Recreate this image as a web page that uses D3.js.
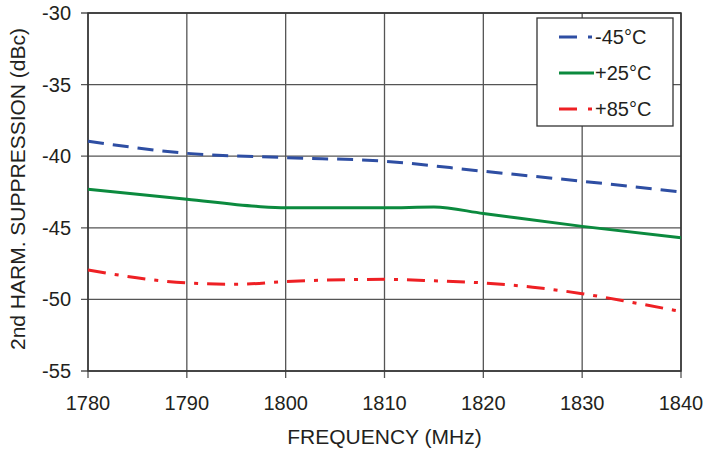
<!DOCTYPE html>
<html>
<head>
<meta charset="utf-8">
<script src="https://cdn.jsdelivr.net/npm/d3@7"></script>
<style>
body { margin: 0; background: #fff; }
text { font-family: "Liberation Sans", Arial, sans-serif; fill: #231f20; }
</style>
</head>
<body>
<script>
// chart values
var freq_ticks = [1780, 1790, 1800, 1810, 1820, 1830, 1840];
var supp_ticks = [-30, -35, -40, -45, -50, -55];

var freq_m45 = [1780, 1790, 1800, 1810, 1820, 1830, 1840];
var supp_m45 = [-38.95, -39.8, -40.1, -40.35, -41.05, -41.75, -42.5];

var freq_p25 = [1780, 1790, 1797, 1800, 1810, 1815, 1820, 1830, 1840];
var supp_p25 = [-42.3, -43.0, -43.5, -43.6, -43.6, -43.55, -44.0, -44.9, -45.7];

var freq_p85 = [1780, 1790, 1795, 1800, 1810, 1815, 1820, 1825, 1830, 1835, 1840];
var supp_p85 = [-47.95, -48.85, -48.95, -48.75, -48.6, -48.7, -48.85, -49.15, -49.6, -50.2, -50.85];

var series_names = ["-45°C", "+25°C", "+85°C"];

var width = 705, height = 454;
var margin = {top: 13, right: 24, bottom: 83, left: 88};
var plot_w = width - margin.left - margin.right;
var plot_h = height - margin.top - margin.bottom;

var svg = d3.select("body").append("svg")
		.attr("width", width)
		.attr("height", height);

var g = svg.append("g")
		.attr("transform", "translate(" + margin.left + "," + margin.top + ")");

var x = d3.scaleLinear().domain([1780, 1840]).range([0, plot_w]);
var y = d3.scaleLinear().domain([-55, -30]).range([plot_h, 0]);

// grid lines
g.selectAll(".vgrid").data(freq_ticks).enter().append("line")
		.attr("x1", function(d) { return x(d); })
		.attr("x2", function(d) { return x(d); })
		.attr("y1", 0)
		.attr("y2", plot_h + 7)
		.attr("stroke", "#555")
		.attr("stroke-width", 1.3);

g.selectAll(".hgrid").data(supp_ticks).enter().append("line")
		.attr("x1", -7)
		.attr("x2", plot_w)
		.attr("y1", function(d) { return y(d); })
		.attr("y2", function(d) { return y(d); })
		.attr("stroke", "#555")
		.attr("stroke-width", 1.3);

// plot border
g.append("rect")
		.attr("width", plot_w)
		.attr("height", plot_h)
		.attr("fill", "none")
		.attr("stroke", "#333")
		.attr("stroke-width", 1.5);

// tick labels
g.selectAll(".xlab").data(freq_ticks).enter().append("text")
		.attr("x", function(d) { return x(d); })
		.attr("y", plot_h + 39)
		.attr("text-anchor", "middle")
		.attr("font-size", 20)
		.text(function(d) { return d; });

g.selectAll(".ylab").data(supp_ticks).enter().append("text")
		.attr("x", -17)
		.attr("y", function(d) { return y(d) + 7; })
		.attr("text-anchor", "end")
		.attr("font-size", 20)
		.text(function(d) { return d; });

// axis titles
svg.append("text")
		.attr("x", margin.left + plot_w / 2)
		.attr("y", 444)
		.attr("text-anchor", "middle")
		.attr("font-size", 21)
		.text("FREQUENCY (MHz)");

svg.append("text")
		.attr("transform", "translate(25," + (margin.top + plot_h / 2 - 3) + ") rotate(-90)")
		.attr("text-anchor", "middle")
		.attr("font-size", 21)
		.text("2nd HARM. SUPPRESSION (dBc)");

// curves
var line = d3.line()
		.x(function(d) { return x(d[0]); })
		.y(function(d) { return y(d[1]); })
		.curve(d3.curveMonotoneX);

var series = [
	{f: freq_m45, v: supp_m45, color: "#2e4ea3", dash: "16,9"},
	{f: freq_p25, v: supp_p25, color: "#0b8a3e", dash: null},
	{f: freq_p85, v: supp_p85, color: "#ee2024", dash: "18,9,4,9"}
];

series.forEach(function(s) {
	g.append("path")
		.attr("d", line(d3.zip(s.f, s.v)))
		.attr("fill", "none")
		.attr("stroke", s.color)
		.attr("stroke-width", 3)
		.attr("stroke-dasharray", s.dash);
});

// legend
var legend = svg.append("g").attr("transform", "translate(537,18)");
legend.append("rect")
		.attr("width", 136)
		.attr("height", 108)
		.attr("fill", "#fff")
		.attr("stroke", "#333")
		.attr("stroke-width", 1.3);

series.forEach(function(s, i) {
	var ly = 19 + i * 36;
	legend.append("line")
		.attr("x1", 22)
		.attr("x2", 57)
		.attr("y1", ly)
		.attr("y2", ly)
		.attr("stroke", s.color)
		.attr("stroke-width", 3)
		.attr("stroke-dasharray", s.dash ? "18,11,4,20" : null);
	legend.append("text")
		.attr("x", 58)
		.attr("y", ly + 7)
		.attr("font-size", 20)
		.text(series_names[i]);
});
</script>
</body>
</html>
